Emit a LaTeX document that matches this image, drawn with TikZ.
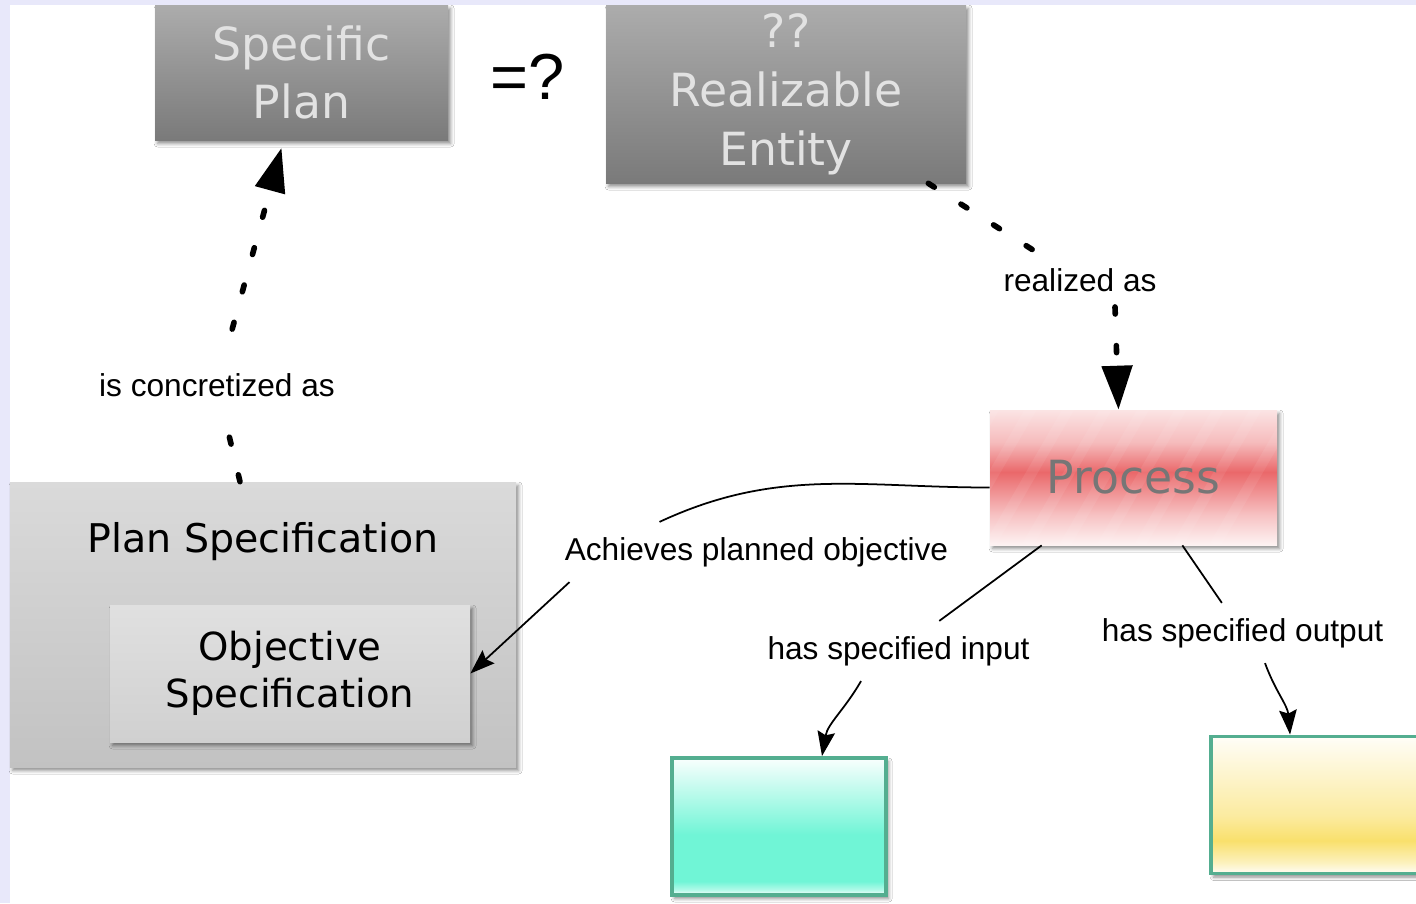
\documentclass[tikz,border=0pt]{standalone}
\usepackage{fontspec}
\setmainfont{Liberation Sans}
\newfontfamily\boxfont{DejaVu Sans}
\usetikzlibrary{arrows.meta}
\usetikzlibrary{shadows.blur}
\definecolor{lavendel}{RGB}{232,232,250}
\definecolor{grauhell}{RGB}{172,172,172}
\definecolor{graudunkel}{RGB}{122,122,122}
\definecolor{schrift}{RGB}{226,226,226}
\definecolor{planoben}{RGB}{218,218,218}
\definecolor{planunten}{RGB}{194,194,194}
\definecolor{zieloben}{RGB}{224,224,224}
\definecolor{zielunten}{RGB}{208,208,208}
\definecolor{prozessrot}{RGB}{234,104,106}
\definecolor{prozessschrift}{RGB}{118,118,118}
\definecolor{tuerkis}{RGB}{112,245,214}
\definecolor{gelb}{RGB}{249,224,108}
\definecolor{randgruen}{RGB}{84,174,144}

\pgfdeclareverticalshading{processshade}{100bp}{color(0bp)=(prozessrot!8); color(25bp)=(prozessrot!8); color(36bp)=(prozessrot!40); color(52bp)=(prozessrot); color(63bp)=(prozessrot!45); color(75bp)=(prozessrot!18); color(100bp)=(prozessrot!18)}
\pgfdeclareverticalshading{inputshade}{100bp}{color(0bp)=(white); color(25bp)=(white); color(27bp)=(tuerkis!55); color(30bp)=(tuerkis); color(47bp)=(tuerkis); color(75bp)=(tuerkis!4); color(100bp)=(tuerkis!4)}
\pgfdeclareverticalshading{outputshade}{100bp}{color(0bp)=(gelb!6); color(25bp)=(gelb!6); color(29bp)=(gelb!45); color(37bp)=(gelb); color(46bp)=(gelb!65); color(75bp)=(gelb!5); color(100bp)=(gelb!5)}

\begin{document}
\begin{tikzpicture}[
    schatten/.style={blur shadow={shadow xshift=1.5pt, shadow yshift=-2pt, shadow blur radius=2pt, shadow opacity=45}},
    grau/.style={schatten, top color=grauhell, bottom color=graudunkel, text=schrift,
        font=\boxfont\fontsize{26}{33.5}\selectfont, align=center, inner sep=0pt},
    prozess/.style={schatten, shade, shading=processshade,
        text=prozessschrift, font=\boxfont\fontsize{26}{33}\selectfont, inner sep=0pt,
        path picture={
            \foreach \k in {-3,...,6}
                \draw[white, opacity=0.07, line width=6pt]
                    ([xshift=\k*0.75cm]path picture bounding box.south west) -- ++(60:4cm);
        }},
    planbox/.style={schatten, top color=planoben, bottom color=planunten, inner sep=0pt},
    zielbox/.style={schatten, top color=zieloben, bottom color=zielunten, align=center,
        font=\boxfont\fontsize{22}{27}\selectfont, inner sep=0pt},
    databox/.style={schatten, draw=randgruen, line width=2.2pt, shade, inner sep=0pt,
        minimum width=4.28cm, minimum height=2.74cm},
    rel/.style={font=\fontsize{18}{21}\selectfont, inner sep=0.3cm},
    dotline/.style={line width=3.2pt, line cap=round, dash pattern=on 4pt off 18pt},
    dothead/.style={-{Triangle[length=25pt,width=17pt]}},
    relline/.style={line width=1pt},
    relhead/.style={-{Stealth[length=14pt,width=10pt,inset=2pt]}}
]
    \useasboundingbox (0,0) rectangle (28.32,-18.06);
    \fill[lavendel] (0,0) rectangle (28.32,-18.06);
    \fill[white] (0.2,-0.1) rectangle (28.32,-18.06);

    % top row
    \node[grau, minimum width=5.86cm, minimum height=2.7cm] (specplan) at (6.03,-1.45) {Specific\\Plan};
    \node[font=\fontsize{37}{40}\selectfont] (gleich) at (10.56,-1.54) {=?};
    \node[grau, minimum width=7.2cm, minimum height=3.56cm] (realent) at (15.72,-1.88) {??\\Realizable\\Entity};

    % process and its data
    \node[prozess, minimum width=5.74cm, minimum height=2.7cm] (process) at (22.67,-9.55) {Process};
    \node[databox, shading=inputshade] (inbox) at (15.58,-16.53) {};
    \node[databox, shading=outputshade] (outbox) at (26.36,-16.1) {};

    % plan specification
    \node[planbox, minimum width=10.12cm, minimum height=5.7cm] (planspec) at (5.26,-12.49) {};
    \node[font=\boxfont\fontsize{22.5}{25}\selectfont] (plantitle) at (5.26,-10.84) {Plan Specification};
    \node[zielbox, minimum width=7.2cm, minimum height=2.74cm] (objspec) at (5.8,-13.47) {Objective\\Specification};

    % labels
    \node[rel] (concr) at (4.34,-7.7) {is concretized as};
    \node[rel] (realized) at (21.6,-5.6) {realized as};
    \node[rel] (achieves) at (15.13,-11.04) {Achieves planned objective};
    \node[rel] (hasinput) at (17.97,-13.02) {has specified input};
    \node[rel] (hasoutput) at (24.85,-12.66) {has specified output};

    % dotted relations
    \draw[dotline] ([xshift=-0.46cm]planspec.north) -- (concr);
    \draw[dotline, dothead, shorten <=0.6cm] (concr) -- ([xshift=-0.4cm,yshift=-0.15cm]specplan.south);
    \draw[dotline] ([xshift=-0.76cm]realent.south east) -- (realized);
    \draw[dotline, dothead] ([xshift=0.7cm]realized.south) -- ([xshift=-0.3cm]process.north);

    % plain relations
    \draw[relline] ([yshift=-0.2cm]process.west) to[out=180, in=25] ([xshift=2.2cm]achieves.north west);
    \draw[relline, relhead] ([xshift=0.4cm]achieves.south west) -- (objspec.east);
    \draw[relline] ([xshift=1.04cm]process.south west) -- (hasinput);
    \draw[relline, relhead] ([xshift=-0.75cm]hasinput.south) to[out=-120, in=80] ([xshift=0.86cm]inbox.north);
    \draw[relline] ([xshift=-1.9cm]process.south east) -- (hasoutput);
    \draw[relline, relhead] ([xshift=0.45cm]hasoutput.south) to[out=-70, in=95] ([xshift=1.62cm]outbox.north west);
\end{tikzpicture}
\end{document}
